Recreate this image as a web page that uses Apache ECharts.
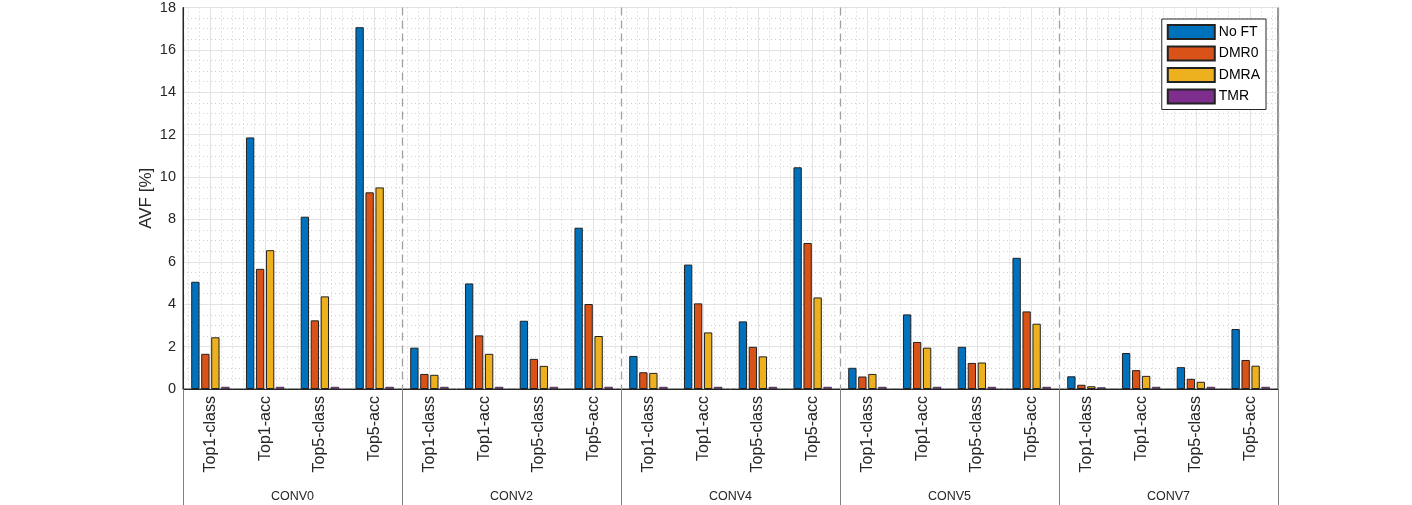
<!DOCTYPE html>
<html>
<head>
<meta charset="utf-8">
<script src="https://cdn.jsdelivr.net/npm/echarts@6/dist/echarts.min.js"></script>
<style>html,body{margin:0;padding:0;background:#fff;}#c{width:1412px;height:505px;}</style>
</head>
<body>
<div id="c"></div>
<script>
const groups = ['CONV0', 'CONV2', 'CONV4', 'CONV5', 'CONV7'];
const metrics = ['Top1-class', 'Top1-acc', 'Top5-class', 'Top5-acc'];
const seriesNames = ['No FT', 'DMR0', 'DMRA', 'TMR'];
const yTicks = [0, 2, 4, 6, 8, 10, 12, 14, 16, 18];

const noFT = [5.06, 11.87, 8.13, 17.07, 1.95, 4.98, 3.22, 7.61, 1.56, 5.87, 3.19, 10.46, 1.00, 3.52, 1.99, 6.19, 0.60, 1.70, 1.03, 2.83];
const dmr0 = [1.66, 5.67, 3.24, 9.28, 0.71, 2.53, 1.42, 4.01, 0.79, 4.04, 1.99, 6.89, 0.59, 2.22, 1.23, 3.66, 0.20, 0.89, 0.48, 1.37];
const dmra = [2.44, 6.55, 4.37, 9.51, 0.67, 1.66, 1.09, 2.50, 0.76, 2.67, 1.54, 4.32, 0.71, 1.95, 1.25, 3.08, 0.13, 0.62, 0.34, 1.10];
const tmr  = [0.10, 0.10, 0.10, 0.10, 0.10, 0.10, 0.10, 0.10, 0.10, 0.10, 0.10, 0.10, 0.10, 0.10, 0.10, 0.10, 0.08, 0.10, 0.10, 0.10];

const colors = ['#0072BD', '#D95319', '#EDB120', '#7E2F8E'];
const categories = [];
groups.forEach(g => metrics.forEach(m => categories.push(m)));
const nCat = categories.length;
// fine positions (tenths of a category) for gridlines
const fine = Array.from({length: nCat * 10 + 1}, (_, i) => String(i));

const FONT = 'Liberation Sans, Arial, Helvetica, sans-serif';
const chart = echarts.init(document.getElementById('c'));
const values = [noFT, dmr0, dmra, tmr];

chart.setOption({
  animation: false,
  textStyle: {fontFamily: FONT},
  grid: {left: 183, right: 134, top: 7, bottom: 116, show: true, borderColor: '#262626', borderWidth: 1, backgroundColor: 'transparent'},
  legend: {
    orient: 'vertical', right: 146, top: 19,
    data: seriesNames,
    itemWidth: 47, itemHeight: 14, itemGap: 5.5,
    padding: [5, 6, 5, 5],
    backgroundColor: '#fff', borderColor: '#262626', borderWidth: 1,
    textStyle: {fontSize: 14, color: '#000', fontFamily: FONT, padding: [0, 0, 0, -1]},
    icon: 'rect'
  },
  xAxis: [
    {
      type: 'category', data: categories, boundaryGap: true, position: 'bottom',
      axisLine: {show: true, lineStyle: {color: '#262626', width: 1}},
      axisTick: {show: false},
      splitLine: {show: false},
      axisLabel: {rotate: 90, fontSize: 16, color: '#262626', margin: 7, interval: 0, fontFamily: FONT}
    },
    {
      type: 'category', data: groups, boundaryGap: true, position: 'bottom', offset: 0,
      axisLine: {show: false},
      axisTick: {show: true, length: 116, lineStyle: {color: '#808080', width: 1}},
      axisLabel: {fontSize: 12.5, color: '#262626', margin: 101, fontFamily: FONT},
      splitLine: {show: true, lineStyle: {color: '#a0a0a0', width: 1.3, type: [8, 5]}}
    },
    {
      type: 'category', data: fine, boundaryGap: false, position: 'bottom', show: true,
      axisLine: {show: false}, axisTick: {show: false}, axisLabel: {show: false},
      splitLine: {show: true, interval: (i) => i % 2 === 1 && i % 10 !== 5, lineStyle: {color: '#cfcfcf', width: 1, type: [1, 3]}}
    },
    {
      type: 'category', data: fine, boundaryGap: false, position: 'bottom', show: true,
      axisLine: {show: false}, axisTick: {show: false}, axisLabel: {show: false},
      splitLine: {show: true, interval: (i) => i % 10 === 5, lineStyle: {color: '#e3e3e3', width: 1}}
    }
  ],
  yAxis: {
    type: 'value', min: yTicks[0], max: yTicks[yTicks.length - 1], interval: 2,
    name: 'AVF [%]', nameLocation: 'middle', nameGap: 28, nameMoveOverlap: false,
    nameTextStyle: {fontSize: 17, color: '#262626', fontFamily: FONT},
    axisLine: {show: true, lineStyle: {color: '#262626'}},
    axisTick: {show: false},
    axisLabel: {fontSize: 14.5, color: '#262626', margin: 7, fontFamily: FONT},
    splitLine: {show: true, lineStyle: {color: '#e3e3e3', width: 1}},
    minorTick: {show: false, splitNumber: 4},
    minorSplitLine: {show: true, lineStyle: {color: '#cfcfcf', width: 1, type: [1, 3]}}
  },
  series: seriesNames.map((name, k) => ({
    name, type: 'bar', xAxisIndex: 0, data: values[k],
    barCategoryGap: '30%', barGap: '20%',
    itemStyle: {color: colors[k], borderColor: '#222', borderWidth: k === 3 ? 0.6 : 1}
  }))
});
</script>
</body>
</html>
